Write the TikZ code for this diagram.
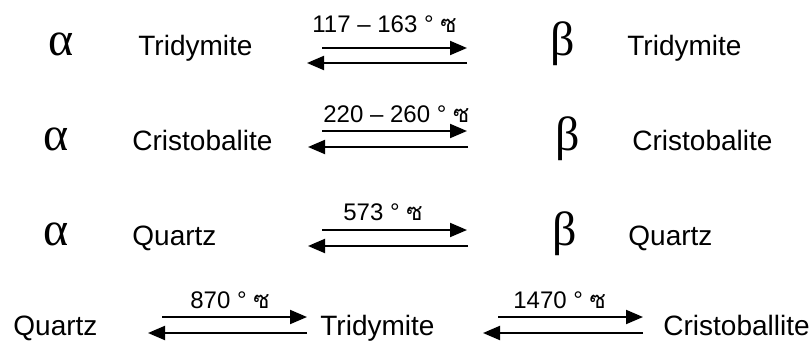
\documentclass[tikz,border=0pt]{standalone}
\usepackage{fontspec}
\setmainfont{Liberation Sans}
\newfontfamily\greekfont{Liberation Serif}
\newfontfamily\thaifont[Script=Thai]{Loma}
\usetikzlibrary{positioning}
\usetikzlibrary{arrows.meta}

\begin{document}
\begin{tikzpicture}[x=0.5pt, y=-0.5pt,
    mineral/.style={anchor=base west, inner sep=0pt, font=\fontsize{14}{16}\selectfont},
    phase/.style={anchor=base west, inner sep=0pt, font=\greekfont\fontsize{24}{26}\selectfont},
    temp/.style={anchor=base west, inner sep=0pt, font=\fontsize{12}{14}\selectfont},
    react/.style={line width=1pt, -{Triangle[length=8.5pt, width=7pt]}}]
\useasboundingbox (0,0) rectangle (810,343);
    \node[phase] (A1) at (48,55) {α};
\node[mineral] (T1) at (138,55) {Tridymite};
\node[temp] (L1) at (312,32) {117 – 163 ° {\thaifont ซ}};
\node[phase] (B1) at (550,55) {β};
\node[mineral] (T2) at (627,55) {Tridymite};
\coordinate (f1s) at (322,48);
\coordinate (f1e) at (467,48);
\coordinate (b1s) at (467,63);
\coordinate (b1e) at (307,63);

\node[phase] (A2) at (43,150) {α};
\node[mineral] (C1) at (132,150) {Cristobalite};
\node[temp] (L2) at (323,122) {220 – 260 ° {\thaifont ซ}};
\node[phase] (B2) at (555,150) {β};
\node[mineral] (C2) at (632,150) {Cristobalite};
\coordinate (f2s) at (322,131);
\coordinate (f2e) at (467,131);
\coordinate (b2s) at (468,147);
\coordinate (b2e) at (308,147);

\node[phase] (A3) at (43,245) {α};
\node[mineral] (Q1) at (132,245) {Quartz};
\node[temp] (L3) at (343,220) {573 ° {\thaifont ซ}};
\node[phase] (B3) at (552,245) {β};
\node[mineral] (Q2) at (628,245) {Quartz};
\coordinate (f3s) at (322,230);
\coordinate (f3e) at (467,230);
\coordinate (b3s) at (468,246);
\coordinate (b3e) at (308,246);

\node[mineral] (Q3) at (13,335) {Quartz};
\node[temp] (L4) at (190,308) {870 ° {\thaifont ซ}};
\node[mineral] (T3) at (320,335) {Tridymite};
\node[temp] (L5) at (513,308) {1470 ° {\thaifont ซ}};
\node[mineral] (C3) at (663,335) {Cristoballite};
\coordinate (f4s) at (162,317);
\coordinate (f4e) at (307,317);
\coordinate (b4s) at (307,333);
\coordinate (b4e) at (148,333);
\coordinate (f5s) at (498,317);
\coordinate (f5e) at (643,317);
\coordinate (b5s) at (643,333);
\coordinate (b5e) at (483,333);

\draw[react] (f1s) -- (f1e);
\draw[react] (b1s) -- (b1e);
\draw[react] (f2s) -- (f2e);
\draw[react] (b2s) -- (b2e);
\draw[react] (f3s) -- (f3e);
\draw[react] (b3s) -- (b3e);
\draw[react] (f4s) -- (f4e);
\draw[react] (b4s) -- (b4e);
\draw[react] (f5s) -- (f5e);
\draw[react] (b5s) -- (b5e);
\end{tikzpicture}
\end{document}
